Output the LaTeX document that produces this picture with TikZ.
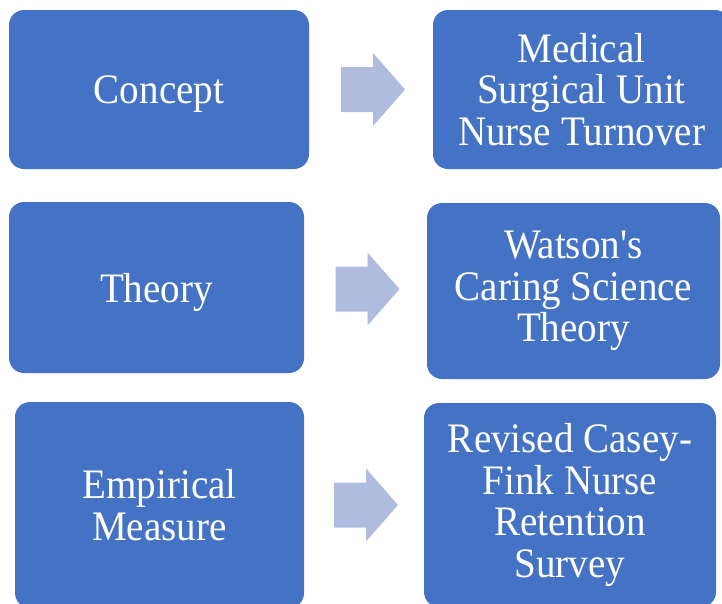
\documentclass[tikz,border=0pt]{standalone}
\usepackage{fontspec}
\setmainfont{Liberation Serif}[FakeStretch=0.93]
\definecolor{boxblue}{HTML}{4472C4}
\definecolor{arrowblue}{HTML}{B0BCDF}
\begin{document}
\begin{tikzpicture}[x=1pt,y=-1pt,
  card/.style={fill=boxblue, draw=none, rounded corners=15pt, inner sep=0pt,
    text=white, align=center, font=\fontsize{42}{41.5}\selectfont},
  oneline/.style={text depth=0pt},
  blockarrow/.pic={\fill[arrowblue] (-32,-22.5) -- (0,-22.5) -- (0,-36.5) -- (32,0)
    -- (0,36.5) -- (0,22.5) -- (-32,22.5) -- cycle;}]
\useasboundingbox (0,0) rectangle (722,603);
\clip (0,0) rectangle (722,603);

% left column: kinds of element
\node[card, oneline, minimum width=300pt, minimum height=159pt] (concept) at (159,89.5) {Concept};
\node[card, oneline, minimum width=295pt, minimum height=171pt] (theory) at (156.5,287.5) {Theory};
\node[card, minimum width=289pt, minimum height=206pt] (measure) at (159.5,505) {Empirical\\Measure};

% right column: what each element is in this study
\node[card, minimum width=297pt, minimum height=159pt] (turnover) at (581.5,89.5) {Medical\\Surgical Unit\\Nurse Turnover};
\node[card, minimum width=293pt, minimum height=176pt] (watson) at (573.5,291) {Watson\textquotesingle s\\Caring Science\\Theory};
\node[card, minimum width=292pt, minimum height=204pt] (survey) at (570,505) {Revised Casey-\\Fink Nurse\\Retention\\Survey};

% block arrows between the columns
\coordinate (a1) at (373,89.5);
\coordinate (a2) at (367.5,289);
\coordinate (a3) at (366,505);
\pic at (a1) {blockarrow};
\pic at (a2) {blockarrow};
\pic at (a3) {blockarrow};
\end{tikzpicture}
\end{document}
